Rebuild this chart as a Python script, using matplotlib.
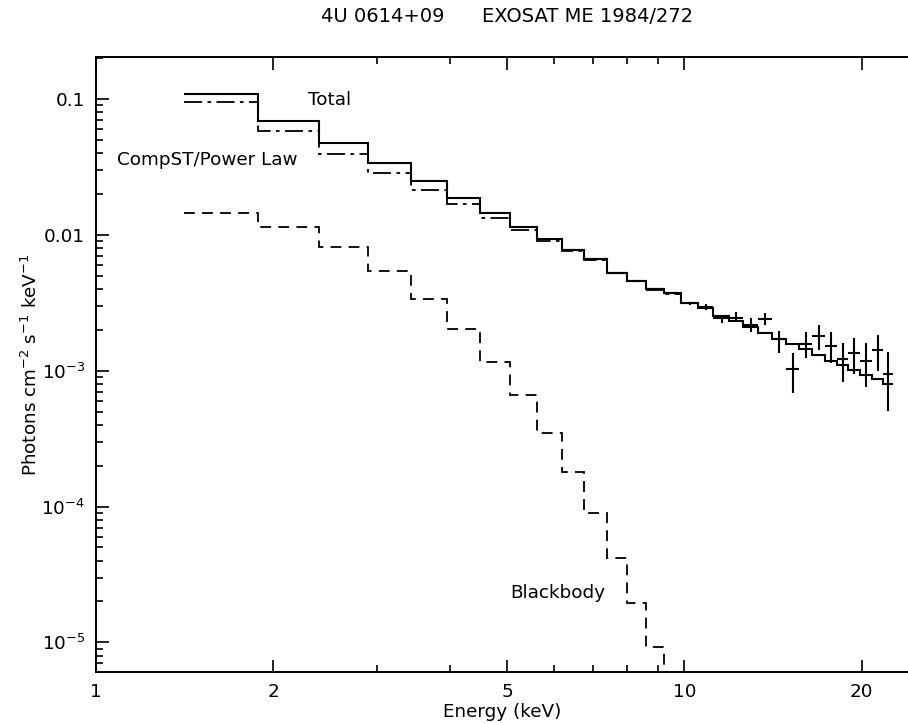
import matplotlib
matplotlib.use("Agg")
import matplotlib.pyplot as plt
import numpy as np
from matplotlib.ticker import FixedLocator, FixedFormatter, NullFormatter

# ---- data ----
edges = [1.41, 1.88, 2.39, 2.90, 3.43, 3.94, 4.49, 5.05, 5.61, 6.18, 6.76, 7.37,
         7.97, 8.60, 9.23, 9.87, 10.55, 11.20, 11.92, 12.59, 13.36, 14.07, 14.89,
         15.68, 16.46, 17.34, 18.16, 19.00, 19.89, 20.82, 21.79, 22.66]

total = [0.1094, 0.0692, 0.0477, 0.0338, 0.0248, 0.01877, 0.01455, 0.01148,
         0.00932, 0.00774, 0.00664, 0.00526, 0.00457, 0.00397, 0.00371, 0.00317,
         0.00288, 0.00253, 0.00232, 0.00211, 0.001885, 0.001702, 0.001572,
         0.001437, 0.001305, 0.001185, 0.001101, 0.001012, 0.000930, 0.000864,
         0.000798]

powerlaw = [0.0955, 0.0584, 0.0394, 0.0285, 0.02138, 0.01700, 0.01337, 0.01085,
            0.00905, 0.00756, 0.00655, 0.00522, 0.00455, 0.00396, 0.00370, 0.00317,
            0.00288, 0.00253, 0.00232, 0.00211, 0.001885, 0.001702, 0.001572,
            0.001437, 0.001305, 0.001185, 0.001101, 0.001012, 0.000930, 0.000864,
            0.000798]

blackbody = [0.01455, 0.01137, 0.00818, 0.00542, 0.00337, 0.00203, 0.001165,
             6.62e-4, 3.50e-4, 1.81e-4, 9.01e-5, 4.16e-5, 1.96e-5, 9.2e-6, 4.0e-6]

# observed points: first bin index, value, lower bound, upper bound
data_bin = list(range(9, 31))
data_val = [0.00773, 0.006643, 0.005265, 0.004573, 0.003974, 0.003713, 0.003133,
            0.002958, 0.002430, 0.002455, 0.002170, 0.002389, 0.001702, 0.001024,
            0.001572, 0.001800, 0.001528, 0.001220, 0.001357, 0.001179, 0.001421,
            0.0009456]
data_lo = [0.00757, 0.006510, 0.005160, 0.004480, 0.003890, 0.003640, 0.003070,
           0.002812, 0.002256, 0.002294, 0.001937, 0.002170, 0.001343, 0.000689,
           0.001234, 0.001421, 0.001145, 0.000830, 0.000946, 0.000762, 0.000995,
           0.000505]
data_hi = [0.00789, 0.006780, 0.005370, 0.004660, 0.004060, 0.003790, 0.003200,
           0.003112, 0.002570, 0.002718, 0.002430, 0.002659, 0.001970, 0.001343,
           0.001917, 0.002170, 0.001917, 0.001607, 0.001749, 0.001591, 0.001831,
           0.001380]

title = "4U 0614+09      EXOSAT ME 1984/272"
xlabel = "Energy (keV)"
ylabel = "Photons cm$^{-2}$ s$^{-1}$ keV$^{-1}$"
xticks = [1, 2, 5, 10, 20]
xticklabels = ["1", "2", "5", "10", "20"]
yticks = [1e-5, 1e-4, 1e-3, 1e-2, 1e-1]
yticklabels = ["$10^{-5}$", "$10^{-4}$", "$10^{-3}$", "0.01", "0.1"]

# ---- plot ----
plt.rcParams['font.family'] = ['DejaVu Sans']
plt.rcParams['mathtext.fontset'] = 'dejavusans'
FS = 13.2

fig = plt.figure(figsize=(9.08, 7.23), dpi=100)
ax = fig.add_axes([0.1061, 0.0705, 0.894, 0.8506])
ax.set_xscale('log')
ax.set_yscale('log')
ax.set_xlim(1, 24.0)
ax.set_ylim(6.05e-6, 0.2038)

edges_a = np.array(edges)
ax.stairs(total, edges_a, baseline=None, color='black', lw=1.5)
ax.stairs(powerlaw, edges_a, baseline=None, color='black', lw=1.3,
          linestyle=(0, (10, 3, 2, 3)))
ax.stairs(blackbody, edges_a[:len(blackbody) + 1], baseline=None, color='black',
          lw=1.3, linestyle=(0, (6, 4)))

bi = np.array(data_bin)
xl = edges_a[bi]
xh = edges_a[bi + 1]
xc = 0.5 * (xl + xh)
yv = np.array(data_val)
ax.errorbar(xc, yv, xerr=[xc - xl, xh - xc],
            yerr=[yv - np.array(data_lo), np.array(data_hi) - yv],
            fmt='none', ecolor='black', elinewidth=1.5, capsize=0)

ax.text(2.29, 0.0985, "Total", fontsize=FS, va='center', ha='left')
ax.text(1.084, 0.0356, "CompST/Power Law", fontsize=FS, va='center', ha='left')
ax.text(5.05, 2.30e-5, "Blackbody", fontsize=FS, va='center', ha='left')

ax.xaxis.set_major_locator(FixedLocator(xticks))
ax.xaxis.set_major_formatter(FixedFormatter(xticklabels))
ax.xaxis.set_minor_locator(FixedLocator([3, 4, 6, 7, 8, 9]))
ax.xaxis.set_minor_formatter(NullFormatter())
ax.yaxis.set_major_locator(FixedLocator(yticks))
ax.yaxis.set_major_formatter(FixedFormatter(yticklabels))
ax.yaxis.set_minor_locator(FixedLocator(
    [m * 10.0 ** e for e in range(-6, 0) for m in range(2, 10)]))
ax.yaxis.set_minor_formatter(NullFormatter())

ax.tick_params(which='both', direction='in', top=True, right=False,
               width=1.2, labelsize=FS, pad=8)
ax.tick_params(which='major', length=9)
ax.tick_params(which='minor', length=5)
for s in ['left', 'bottom', 'top']:
    ax.spines[s].set_linewidth(1.4)
ax.spines['right'].set_visible(False)

ax.set_xlabel(xlabel, fontsize=FS, labelpad=1)
ax.set_ylabel(ylabel, fontsize=FS, labelpad=0)
ax.yaxis.set_label_coords(-0.068, 0.5)
fig.text(0.558, 0.977, title, fontsize=14, ha='center', va='center')

fig.savefig("out.png", dpi=100)
